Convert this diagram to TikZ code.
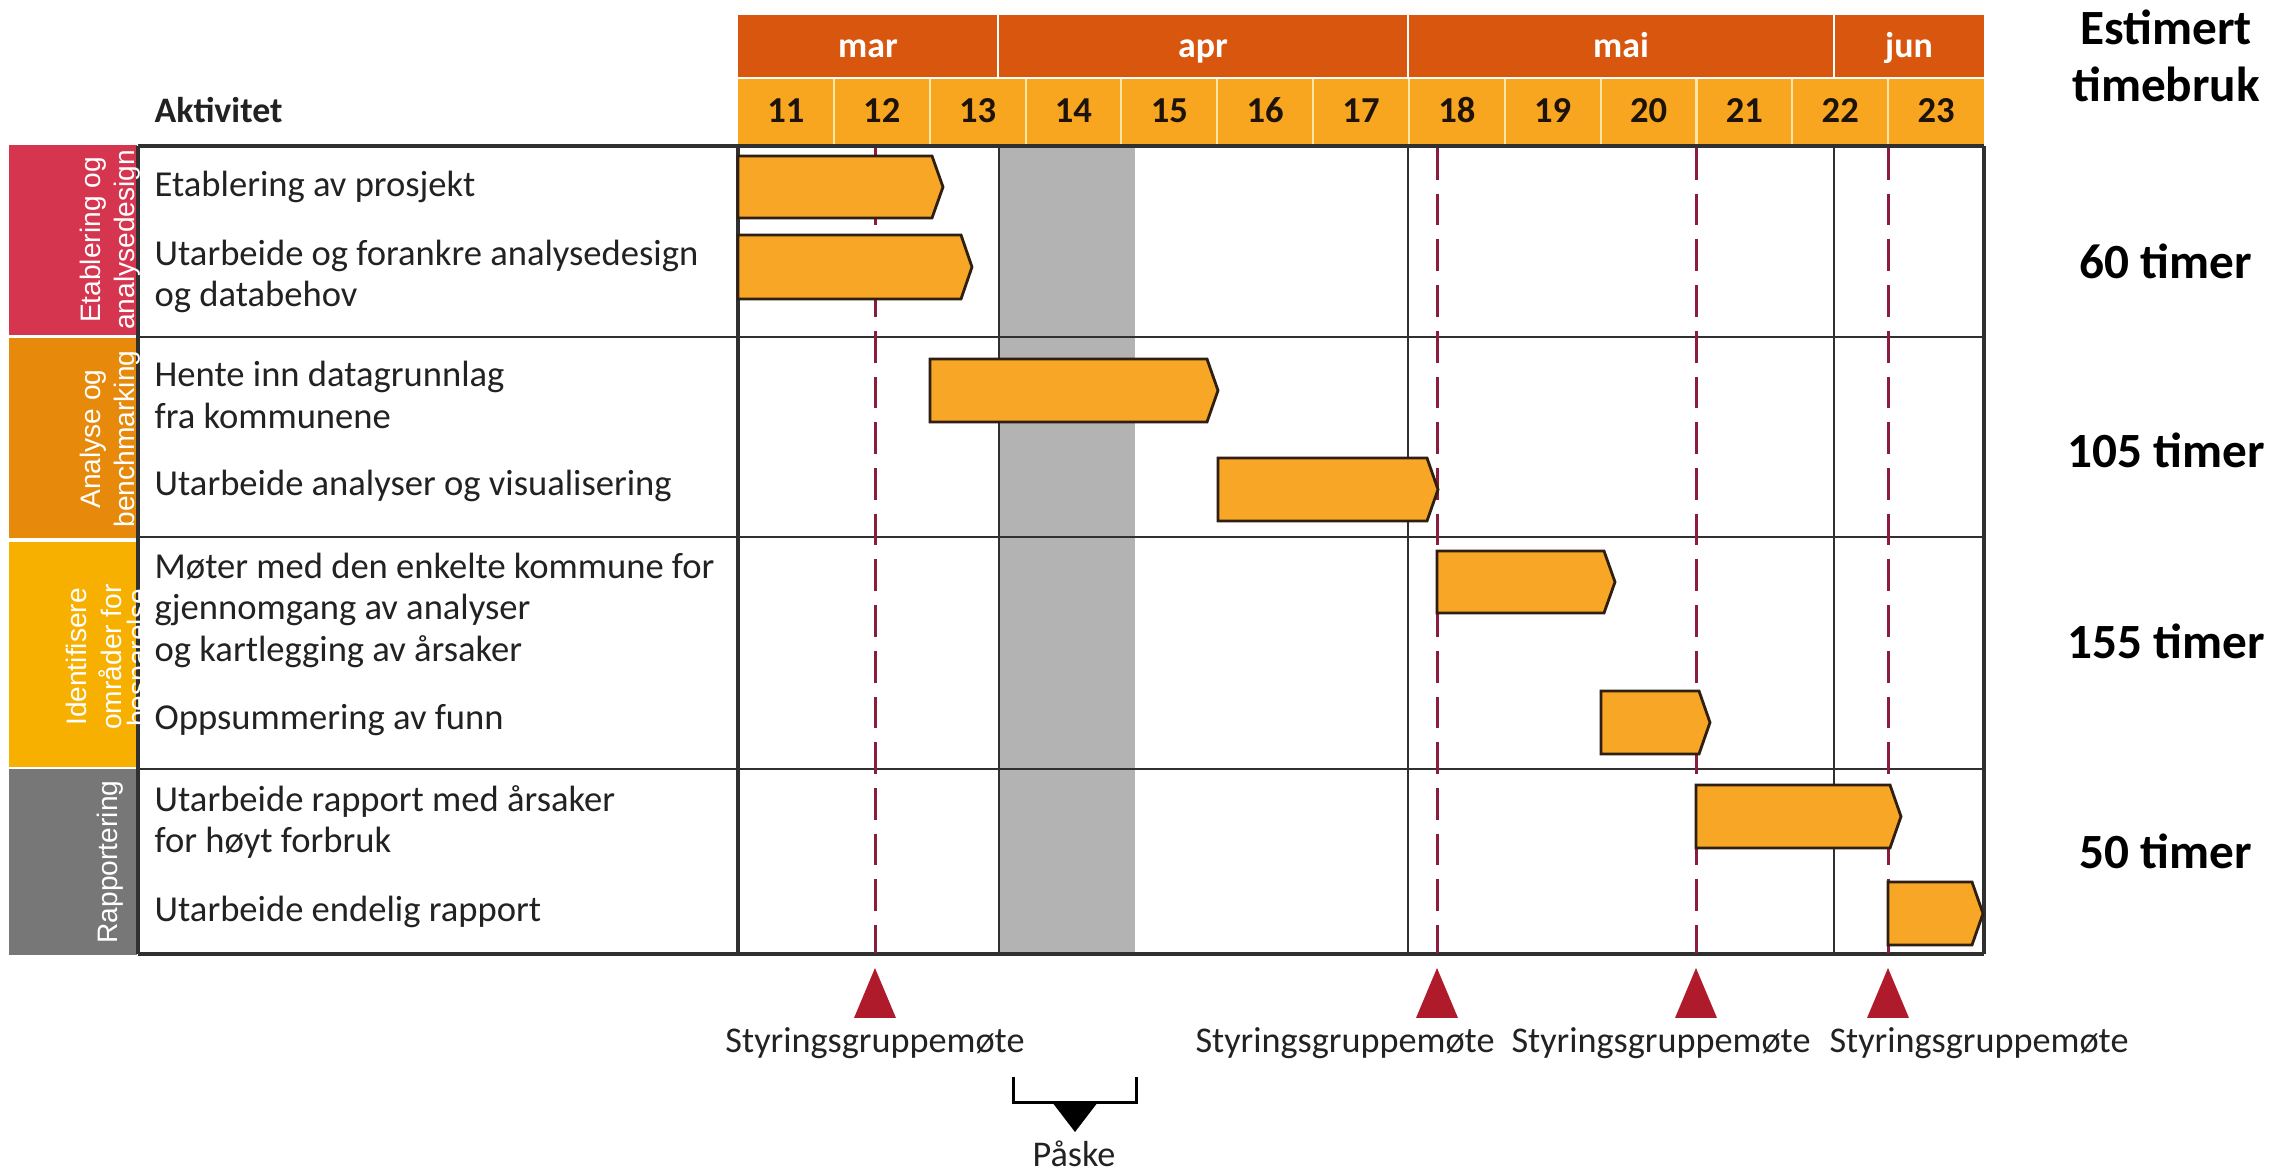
\documentclass[tikz,border=0pt]{standalone}
\usepackage{fontspec}
\setmainfont{Carlito}
\newfontfamily\arialf{Liberation Sans}
\definecolor{monthc}{HTML}{D9560E}
\definecolor{weekc}{HTML}{F8A520}
\definecolor{weekline}{HTML}{FCE7A6}
\definecolor{barc}{HTML}{F7A626}
\definecolor{barline}{HTML}{2E1F10}
\definecolor{dashc}{HTML}{8C1C3C}
\definecolor{trired}{HTML}{B01B2C}
\definecolor{paskec}{HTML}{B3B3B3}
\definecolor{redside}{HTML}{D6354F}
\definecolor{orangeside}{HTML}{E78A0B}
\definecolor{yellowside}{HTML}{F8B000}
\definecolor{grayside}{HTML}{777777}
\definecolor{txtc}{HTML}{222222}
\definecolor{gridc}{HTML}{303030}
\newcommand{\ganttbar}[4]{\draw[barstyle] (#1,#3) -- ({#2-11},#3) -- (#2,{(#3+#4)/2}) -- ({#2-11},#4) -- (#1,#4) -- cycle;}
\newcommand{\milestone}[1]{\fill[trired] ({#1-21},1018) -- (#1,968) -- ({#1+21},1018) -- cycle;}
\tikzset{
  barstyle/.style={fill=barc, draw=barline, line width=0.8pt, line join=miter},
  gridline/.style={draw=gridc, line width=0.5pt},
  borderline/.style={draw=gridc, line width=1pt},
  dashline/.style={draw=dashc, line width=0.85pt, dash pattern=on 9pt off 4pt},
  acttext/.style={anchor=base west, inner sep=0pt, text=txtc, font=\fontsize{10.4}{12}\selectfont},
  sidet/.style={rotate=90, inner sep=0pt, text=white, font=\arialf\fontsize{8}{9.6}\selectfont},
  weektext/.style={anchor=base, inner sep=0pt, text=black!85!brown, font=\bfseries\fontsize{10.4}{12}\selectfont},
  monthtext/.style={anchor=base, inner sep=0pt, text=white, font=\bfseries\fontsize{10.2}{12}\selectfont},
  hourtext/.style={anchor=base, inner sep=0pt, text=black, font=\bfseries\fontsize{14}{16}\selectfont},
  meettext/.style={anchor=base, inner sep=0pt, text=txtc, font=\fontsize{10.3}{12}\selectfont},
}
\begin{document}
\begin{tikzpicture}[x=0.01cm, y=-0.01cm]
\useasboundingbox (0,0) rectangle (2272,1171);
\fill[white] (0,0) rectangle (2272,1171);

% side category boxes
\fill[redside] (9,145) rectangle (137,335);
\fill[orangeside] (9,338) rectangle (137,538);
\fill[yellowside] (9,542) rectangle (137,767);
\fill[grayside] (9,769) rectangle (137,955);

% table background
\fill[white] (138,146) rectangle (1984,954);
% Easter shading
\fill[paskec] (999,146) rectangle (1135,954);

% grid
\draw[gridline] (138,337) -- (1984,337);
\draw[gridline] (138,537) -- (1984,537);
\draw[gridline] (138,769) -- (1984,769);
\draw[gridline] (999,146) -- (999,954);
\draw[gridline] (1408,146) -- (1408,954);
\draw[gridline] (1834,146) -- (1834,954);
\draw[borderline] (138,146) -- (138,954);
\draw[borderline] (738,146) -- (738,954);
\draw[borderline] (1984,146) -- (1984,954);
\draw[borderline] (138,146) -- (1984,146);
\draw[borderline] (138,954) -- (1984,954);

% steering group meeting lines
\draw[dashline] (875,148) -- (875,953);
\draw[dashline] (1437,148) -- (1437,953);
\draw[dashline] (1696,148) -- (1696,953);
\draw[dashline] (1888,148) -- (1888,953);

% bars
\ganttbar{738}{943}{156}{218}
\ganttbar{738}{972}{235}{299}
\ganttbar{930}{1218}{359}{422}
\ganttbar{1218}{1438}{458}{521}
\ganttbar{1437}{1615}{551}{613}
\ganttbar{1601}{1710}{691}{754}
\ganttbar{1696}{1901}{785}{848}
\ganttbar{1888}{1983}{882}{945}

% header
\fill[monthc] (738,15) rectangle (1984,77);
\fill[weekc] (738,79) rectangle (1984,144);
\foreach \xx in {998,1408,1834} \draw[white, line width=0.6pt] (\xx,15) -- (\xx,77);
\foreach \i in {1,...,12} \draw[weekline, line width=0.6pt] ({738+\i*95.85},79) -- ({738+\i*95.85},144);
\node[monthtext] (mmar) at (868,58) {mar};
\node[monthtext] (mapr) at (1203,58) {apr};
\node[monthtext] (mmai) at (1621,58) {mai};
\node[monthtext] (mjun) at (1909,58) {jun};
\foreach \w [count=\i from 0] in {11,...,23}
  \node[weektext] (w\w) at ({738+47.9+\i*95.85},123) {\w};

\node[anchor=base west, inner sep=0pt, text=txtc, font=\bfseries\fontsize{10.2}{12}\selectfont] (akt) at (154,123) {Aktivitet};

% activity texts
\node[acttext] (t1) at (154,197) {Etablering av prosjekt};
\node[acttext] (t2a) at (154,266) {Utarbeide og forankre analysedesign};
\node[acttext] (t2b) at (154,307) {og databehov};
\node[acttext] (t3a) at (154,387) {Hente inn datagrunnlag};
\node[acttext] (t3b) at (154,429) {fra kommunene};
\node[acttext] (t4) at (154,496) {Utarbeide analyser og visualisering};
\node[acttext] (t5a) at (154,579) {Møter med den enkelte kommune for};
\node[acttext] (t5b) at (154,620) {gjennomgang av analyser};
\node[acttext] (t5c) at (154,662) {og kartlegging av årsaker};
\node[acttext] (t6) at (154,730) {Oppsummering av funn};
\node[acttext] (t7a) at (154,812) {Utarbeide rapport med årsaker};
\node[acttext] (t7b) at (154,853) {for høyt forbruk};
\node[acttext] (t8) at (154,922) {Utarbeide endelig rapport};

% side labels
\node[sidet] (s1a) at (93,240) {Etablering og};
\node[sidet] (s1b) at (127,240) {analysedesign};
\node[sidet] (s2a) at (93,439) {Analyse og};
\node[sidet] (s2b) at (127,439) {benchmarking};
\node[sidet] (s3a) at (76,657) {Identifisere};
\node[sidet] (s3b) at (110,657) {områder for};
\node[sidet] (s3c) at (140,658) {besparelse};
\node[sidet] (s4) at (110,862) {Rapportering};

% estimated hours
\node[hourtext] (h0a) at (2166,45) {Estimert};
\node[hourtext] (h0b) at (2166,102) {timebruk};
\node[hourtext] (h1) at (2166,279) {60 timer};
\node[hourtext] (h2) at (2166,468) {105 timer};
\node[hourtext] (h3) at (2166,659) {155 timer};
\node[hourtext] (h4) at (2166,869) {50 timer};

% milestones
\milestone{875}
\milestone{1437}
\milestone{1696}
\milestone{1888}
\node[meettext] (m1) at (875,1053) {Styringsgruppemøte};
\node[meettext] (m2) at (1345,1053) {Styringsgruppemøte};
\node[meettext] (m3) at (1661,1053) {Styringsgruppemøte};
\node[meettext] (m4) at (1979,1053) {Styringsgruppemøte};

% Easter bracket
\draw[black, line width=0.85pt] (1013,1077) -- (1013,1103) -- (1136,1103) -- (1136,1077);
\fill[black] (1052,1102) -- (1098,1102) -- (1075,1132) -- cycle;
\node[meettext] (paske) at (1074,1167) {Påske};
\end{tikzpicture}
\end{document}
